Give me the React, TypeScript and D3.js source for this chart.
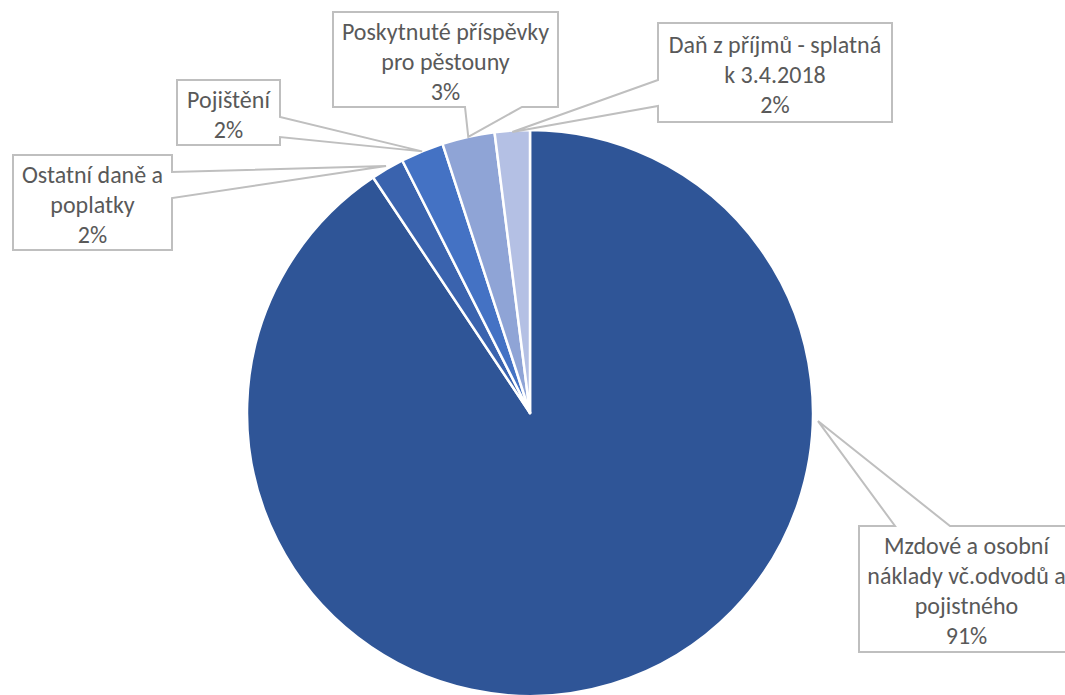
import React from "react";
import * as d3 from "d3";

// ---- data ----
const categories = [
  "Mzdové a osobní náklady vč.odvodů a pojistného",
  "Ostatní daně a poplatky",
  "Pojištění",
  "Poskytnuté příspěvky pro pěstouny",
  "Daň z příjmů - splatná k 3.4.2018",
];
const values = [90.65, 1.9, 2.45, 3.0, 2.0];
const labelLines = [
  ["Mzdové a osobní", "náklady vč.odvodů a", "pojistného"],
  ["Ostatní daně a", "poplatky"],
  ["Pojištění"],
  ["Poskytnuté příspěvky", "pro pěstouny"],
  ["Daň z příjmů - splatná", "k 3.4.2018"],
];
const colors = ["#2F5597", "#3A63AE", "#4472C4", "#8FA4D6", "#B4C0E4"];

// ---- layout ----
const W = 1065;
const H = 695;
const CX = 530;
const CY = 413;
const R = 283;
const LINE_H = 30;

type Callout = {
  x: number; y: number; w: number; h: number;
  side: "top" | "right" | "bottom" | "left";
  a: number; b: number; // wedge base along side (absolute coords)
  tipAngle?: number; // degrees, clockwise from 12 o'clock
  tipR?: number;
};
const callouts: Callout[] = [
  { x: 859, y: 526, w: 215, h: 126, side: "top", a: 895, b: 950, tipAngle: 91.6, tipR: 1.018 },
  { x: 13, y: 155, w: 159, h: 95, side: "right", a: 172, b: 198, tipR: 1.01 },
  { x: 177, y: 80, w: 103, h: 65, side: "right", a: 117, b: 137, tipR: 1.0 },
  { x: 333, y: 12, w: 225, h: 95, side: "bottom", a: 465, b: 522, tipR: 1.0 },
  { x: 658, y: 23, w: 234, h: 99, side: "left", a: 80, b: 106, tipR: 0.995 },
];

function calloutPath(c: Callout, tx: number, ty: number) {
  const x0 = c.x, y0 = c.y, x1 = c.x + c.w, y1 = c.y + c.h;
  const p = d3.path();
  p.moveTo(x0, y0);
  if (c.side === "top") {
    p.lineTo(c.a, y0); p.lineTo(tx, ty); p.lineTo(c.b, y0);
  }
  p.lineTo(x1, y0);
  if (c.side === "right") {
    p.lineTo(x1, c.a); p.lineTo(tx, ty); p.lineTo(x1, c.b);
  }
  p.lineTo(x1, y1);
  if (c.side === "bottom") {
    p.lineTo(c.b, y1); p.lineTo(tx, ty); p.lineTo(c.a, y1);
  }
  p.lineTo(x0, y1);
  if (c.side === "left") {
    p.lineTo(x0, c.b); p.lineTo(tx, ty); p.lineTo(x0, c.a);
  }
  p.closePath();
  return p.toString();
}

export default function App() {
  const pie = d3.pie<number>().sort(null).value((d) => d).startAngle(0).endAngle(2 * Math.PI);
  const arcs = pie(values);
  const arc = d3.arc<d3.PieArcDatum<number>>().innerRadius(0).outerRadius(R);
  const total = d3.sum(values);

  return (
    <svg
      width={W}
      height={H}
      style={{ position: "absolute", left: 0, top: 0, background: "#fff" }}
      fontFamily="Carlito, Calibri, Lato, sans-serif"
    >
      <g transform={`translate(${CX},${CY})`}>
        {arcs.map((a, i) => (
          <path key={i} d={arc(a) || ""} fill={colors[i]} stroke="#fff" strokeWidth={2.5} strokeLinejoin="round" />
        ))}
      </g>
      {arcs.map((a, i) => {
        const c = callouts[i];
        const ang = c.tipAngle !== undefined ? (c.tipAngle * Math.PI) / 180 : (a.startAngle + a.endAngle) / 2;
        const rr = R * (c.tipR ?? 1);
        const tx = CX + rr * Math.sin(ang);
        const ty = CY - rr * Math.cos(ang);
        const pct = `${Math.round((values[i] / total) * 100)}%`;
        const lines = [...labelLines[i], pct];
        const n = lines.length;
        const cxText = c.x + c.w / 2;
        const cyBox = c.y + c.h / 2;
        return (
          <g key={categories[i]}>
            <path d={calloutPath(c, tx, ty)} fill="#fff" stroke="#BFBFBF" strokeWidth={2} strokeLinejoin="miter" />
            <text textAnchor="middle" fill="#595959" fontSize={24}>
              {lines.map((t, j) => (
                <tspan key={j} x={cxText} y={cyBox + (j - (n - 1) / 2) * LINE_H + 10}>
                  {t}
                </tspan>
              ))}
            </text>
          </g>
        );
      })}
    </svg>
  );
}
